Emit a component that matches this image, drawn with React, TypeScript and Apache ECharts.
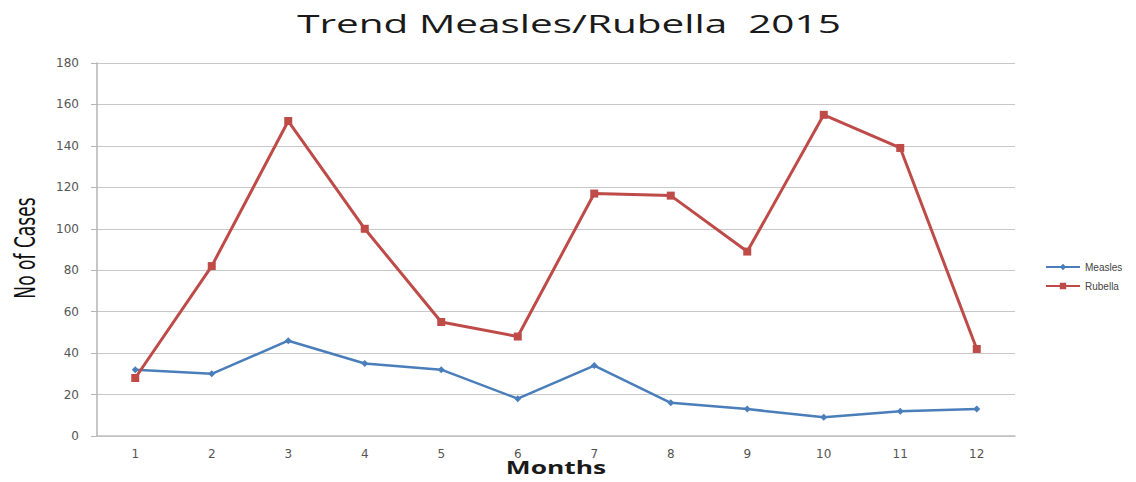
import React, { useEffect, useRef } from "react";
import * as echarts from "echarts";

const months = ["1", "2", "3", "4", "5", "6", "7", "8", "9", "10", "11", "12"];
const measles = [32, 30, 46, 35, 32, 18, 34, 16, 13, 9, 12, 13];
const rubella = [28, 82, 152, 100, 55, 48, 117, 116, 89, 155, 139, 42];
const yTicks = { min: 0, max: 180, interval: 20 };

export default function App() {
  const ref = useRef<HTMLDivElement>(null);
  useEffect(() => {
    if (!ref.current) return;
    const chart = echarts.init(ref.current, undefined, { renderer: "svg" });
    chart.setOption({
      animation: false,
      backgroundColor: "#ffffff",
      graphic: [
        {
          type: "text",
          x: 569,
          y: 23,
          scaleX: 1.62,
          style: {
            text: "Trend Measles/Rubella  2015",
            fontFamily: "Open Sans",
            fontSize: 25,
            fill: "#1a1a1a",
            textAlign: "center",
            textVerticalAlign: "middle",
          },
        },
        {
          type: "text",
          x: 556,
          y: 467,
          scaleX: 1.55,
          style: {
            text: "Months",
            fontFamily: "Open Sans",
            fontWeight: "bold",
            fontSize: 17,
            fill: "#1a1a1a",
            textAlign: "center",
            textVerticalAlign: "middle",
          },
        },
        {
          type: "text",
          x: 26,
          y: 248,
          rotation: Math.PI / 2,
          scaleY: 1.45,
          style: {
            text: "No of Cases",
            fontFamily: "DejaVu Sans Condensed, Liberation Sans, sans-serif",
            fontSize: 19,
            fill: "#111",
            textAlign: "center",
            textVerticalAlign: "middle",
          },
        },
      ],
      legend: {
        orient: "vertical",
        left: 1040,
        top: 257,
        itemGap: 9,
        itemWidth: 34,
        itemHeight: 8,
        textStyle: { fontSize: 10, color: "#444", fontFamily: "Liberation Sans" },
        data: ["Measles", "Rubella"],
      },
      grid: { left: 97, right: 121, top: 63, bottom: 46, containLabel: false },
      xAxis: {
        type: "category",
        data: months,
        boundaryGap: true,
        axisLine: { lineStyle: { color: "#c0c0c0", width: 1.5 } },
        axisTick: { show: false },
        axisLabel: { color: "#555", fontSize: 12, margin: 12, fontFamily: "DejaVu Sans" },
      },
      yAxis: {
        type: "value",
        min: yTicks.min,
        max: yTicks.max,
        interval: yTicks.interval,
        axisLine: { show: true, lineStyle: { color: "#b5b5b5", width: 1.5 } },
        axisTick: { show: true, length: 6, lineStyle: { color: "#b5b5b5" } },
        axisLabel: { color: "#555", fontSize: 12, margin: 18, fontFamily: "DejaVu Sans" },
        splitLine: { lineStyle: { color: "#c8c8c8", width: 1.2 } },
      },
      series: [
        {
          name: "Measles",
          type: "line",
          data: measles,
          symbol: "diamond",
          symbolSize: 7,
          lineStyle: { color: "#4a7ebb", width: 2.5 },
          itemStyle: { color: "#4a7ebb" },
        },
        {
          name: "Rubella",
          type: "line",
          data: rubella,
          symbol: "rect",
          symbolSize: 8,
          lineStyle: { color: "#be4b48", width: 3 },
          itemStyle: { color: "#be4b48" },
        },
      ],
    });
    return () => chart.dispose();
  }, []);
  return (
    <div
      ref={ref}
      style={{ position: "fixed", left: 0, top: 0, width: 1136, height: 482 }}
    />
  );
}
